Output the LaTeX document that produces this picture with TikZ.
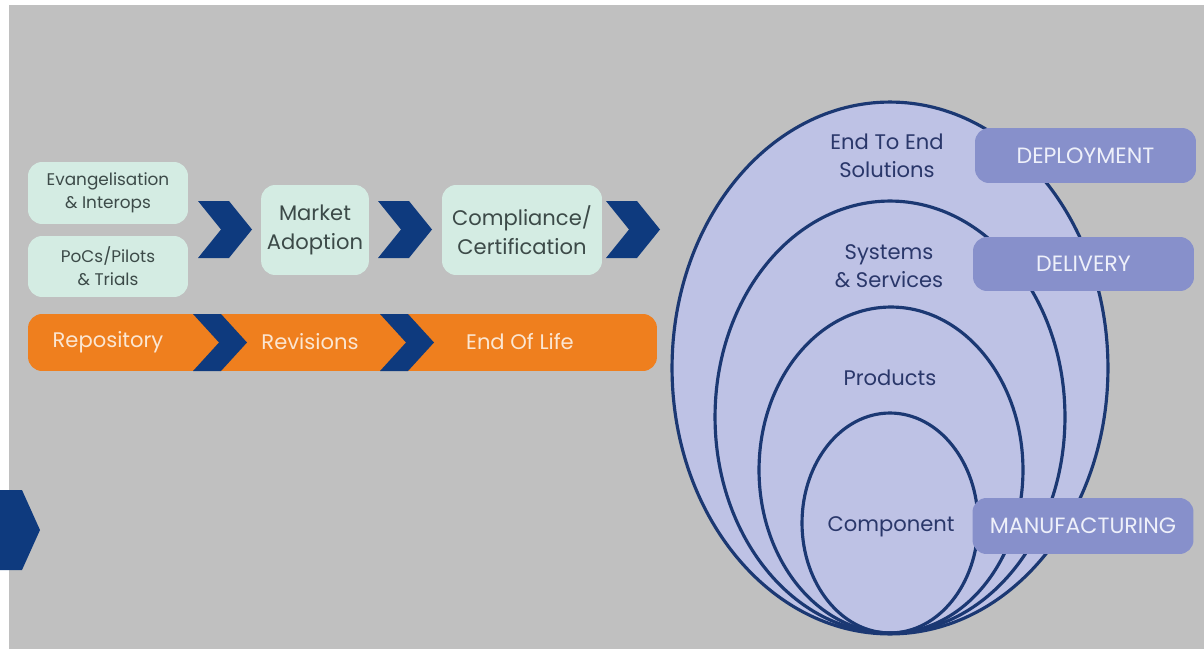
\documentclass[tikz,border=0pt]{standalone}
\usepackage{fontspec}
\setmainfont{Poppins}
\usetikzlibrary{shapes.geometric}
\definecolor{bggray}{HTML}{C0C0C0}
\definecolor{mint}{HTML}{D4ECE3}
\definecolor{minttext}{HTML}{3C4A48}
\definecolor{navy}{HTML}{0E3A7E}
\definecolor{barorange}{HTML}{EF7F1E}
\definecolor{bartext}{HTML}{FBE6D2}
\definecolor{lavender}{HTML}{BEC2E5}
\definecolor{ringline}{HTML}{1B3873}
\definecolor{ringtext}{HTML}{2A376A}
\definecolor{tabfill}{HTML}{8790CB}
\definecolor{tabtext}{HTML}{EEF0FA}
\tikzstyle{stage} = [rectangle, rounded corners=8pt, fill=mint, text=minttext, align=center]
\tikzstyle{smallstage} = [stage, minimum width=3.2cm, font=\fontsize{9.6}{13}\selectfont]
\tikzstyle{bigstage} = [stage, minimum height=1.8cm, font=\fontsize{12}{16.5}\selectfont]
\tikzstyle{bartxt} = [text=bartext, font=\fontsize{12}{12}\selectfont]
\tikzstyle{ring} = [draw=ringline, line width=1.8pt]
\tikzstyle{ringlabel} = [text=ringtext, align=center, font=\fontsize{12}{16}\selectfont]
\tikzstyle{tab} = [rectangle, rounded corners=8pt, fill=tabfill, text=tabtext, minimum width=4.42cm, font=\fontsize{12.6}{12}\selectfont]

\begin{document}
\begin{tikzpicture}[x=0.02cm,y=-0.02cm]
\useasboundingbox (0,0) rectangle (1204,649);
\fill[white] (0,0) rectangle (1204,649);
\fill[bggray] (9,5) rectangle (1204,649);

% stages on the left
\node[smallstage, minimum height=1.24cm] (evang) at (108,193) {Evangelisation\\ \& Interops};
\node[smallstage, minimum height=1.22cm] (pocs) at (108,266.5) {PoCs/Pilots\\ \& Trials};
\node[bigstage, minimum width=2.12cm] (market) at (315,230) {Market\\Adoption};
\node[bigstage, minimum width=3.2cm] (compl) at (522,230) {Compliance/\\Certification};
\foreach \x in {198,378,606}{
\fill[navy] (\x,201) -- ++(31,0) -- ++(23,28.5) -- ++(-23,28.5) -- ++(-31,0) -- ++(23,-28.5) -- cycle;
}

% orange bar
\node[rectangle, rounded corners=8pt, fill=barorange, minimum width=12.58cm, minimum height=1.14cm] (bar) at (342.5,342.5) {};
\foreach \x in {193,380}{
\fill[navy] (\x,314) -- ++(28,0) -- ++(26,28.5) -- ++(-26,28.5) -- ++(-28,0) -- ++(26,-28.5) -- cycle;
}
\node[bartxt] (repo) at (108,342) {Repository};
\node[bartxt] (rev) at (310,342) {Revisions};
\node[bartxt] (eol) at (520,342) {End Of Life};

% lone chevron at the left edge
\fill[navy] (0,490) -- (22,490) -- (40,530) -- (22,570) -- (0,570) -- cycle;

% nested rings
\fill[lavender] (890,368) ellipse [x radius=4.36cm, y radius=5.32cm];
\draw[ring] (890,368) ellipse [x radius=4.36cm, y radius=5.32cm];
\draw[ring] (890,417) ellipse [x radius=3.5cm, y radius=4.32cm];
\draw[ring] (891,470) ellipse [x radius=2.64cm, y radius=3.26cm];
\draw[ring] (890,523) ellipse [x radius=1.76cm, y radius=2.2cm];
\node[ringlabel] (e2e) at (887,156) {End To End\\Solutions};
\node[ringlabel] (sys) at (889,266) {Systems\\\& Services};
\node[ringlabel] (prod) at (890,378) {Products};
\node[ringlabel] (comp) at (891,527) {Component};

% tabs on the right
\node[tab, minimum height=1.1cm] (deploy) at (1085.5,155.5) {DEPLOYMENT};
\node[tab, minimum height=1.08cm] (deliv) at (1083.5,264) {DELIVERY};
\node[tab, minimum height=1.12cm] (manuf) at (1083,526) {MANUFACTURING};
\end{tikzpicture}
\end{document}
